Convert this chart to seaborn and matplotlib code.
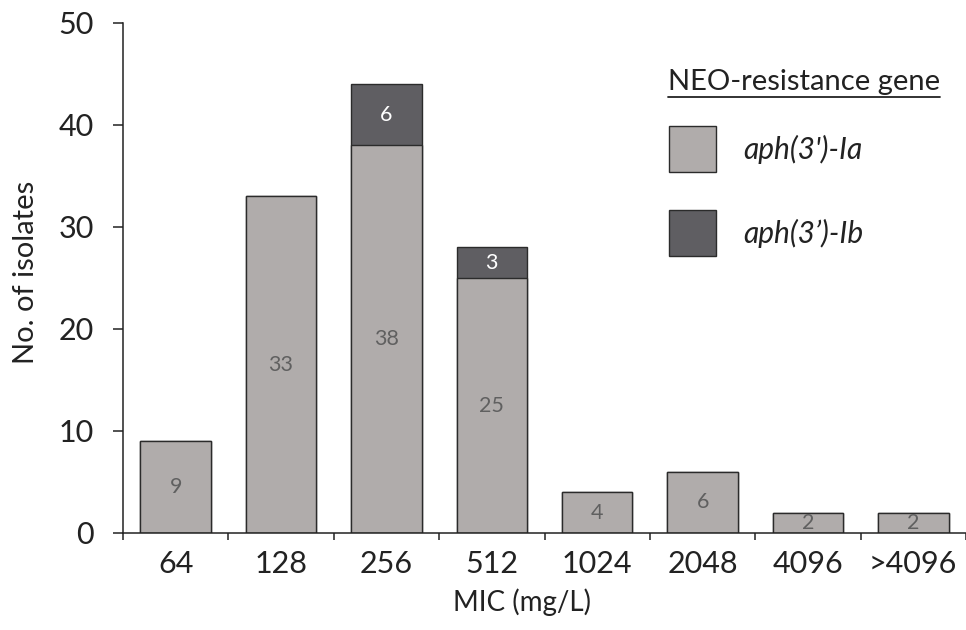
import matplotlib
matplotlib.use("Agg")
import matplotlib.pyplot as plt
import seaborn as sns
import pandas as pd
from matplotlib.patches import Rectangle
from matplotlib.lines import Line2D

categories = ["64", "128", "256", "512", "1024", "2048", "4096", ">4096"]
ia_counts = [9, 33, 38, 25, 4, 6, 2, 2]
ib_counts = [0, 0, 6, 3, 0, 0, 0, 0]
series_names = ["aph(3')-Ia", "aph(3\u2019)-Ib"]
legend_title = "NEO-resistance gene"

LIGHT = "#b0acab"
DARK = "#5f5e62"
EDGE = "#2b2b2b"
TXT = "#222222"

sns.set_theme(style="white")
plt.rcParams["font.family"] = ["Lato", "DejaVu Sans"]

df = pd.DataFrame({"MIC": categories, "Ia": ia_counts, "Ib": ib_counts})
df["Total"] = df["Ia"] + df["Ib"]

W, H = 966, 630
fig = plt.figure(figsize=(W / 100, H / 100), dpi=100)
ax = fig.add_axes([123 / W, 97 / H, 1 - 123 / W, (533 - 23) / H])

sns.barplot(data=df, x="MIC", y="Total", color=DARK, saturation=1, width=0.67,
            edgecolor=EDGE, linewidth=1.0, ax=ax, order=categories)
sns.barplot(data=df, x="MIC", y="Ia", color=LIGHT, saturation=1, width=0.67,
            edgecolor=EDGE, linewidth=1.0, ax=ax, order=categories)

for i, (a, b) in enumerate(zip(ia_counts, ib_counts)):
    ax.text(i, a / 2, str(a), ha="center", va="center", fontsize=15.5, color="#606060")
    if b > 0:
        ax.text(i, a + b / 2, str(b), ha="center", va="center", fontsize=15.5, color="white")

ax.set_xlim(-0.5, 7.41)
ax.set_ylim(0, 50)
ax.set_yticks(range(0, 51, 10))
ax.set_xticks(range(len(categories)))
ax.set_xticklabels(categories)
ax.set_xticks([i - 0.5 for i in range(len(categories) + 1)], minor=True)
ax.tick_params(axis="x", which="major", length=0, pad=12, labelsize=22, colors=TXT)
ax.tick_params(axis="x", which="minor", length=5, width=1.1, direction="out", bottom=True, color=TXT)
ax.tick_params(axis="y", which="major", length=7, width=1.1, direction="out", left=True, pad=14,
               labelsize=22, colors=TXT)

for s in ["top", "right"]:
    ax.spines[s].set_visible(False)
for s in ["left", "bottom"]:
    ax.spines[s].set_color(TXT)
    ax.spines[s].set_linewidth(1.1)

ax.set_xlabel("MIC (mg/L)", fontsize=20, color=TXT)
ax.set_ylabel("No. of isolates", fontsize=21, color=TXT)
ax.xaxis.set_label_coords((522 - 123) / 843, (533 - 588) / 510)
ax.yaxis.set_label_coords((39 - 123) / 843, (533 - 272) / 510)

def fx(px):
    return px / W

def fy(py):
    return 1 - py / H

title = fig.text(fx(668), fy(90), legend_title, ha="left", va="baseline", fontsize=21, color=TXT)
fig.canvas.draw()
bb = title.get_window_extent(fig.canvas.get_renderer())
fig.add_artist(Line2D([bb.x0 / W, bb.x1 / W], [fy(97), fy(97)], transform=fig.transFigure,
                      color=TXT, linewidth=1.3))
for (top, color, name) in [(126, LIGHT, series_names[0]), (210, DARK, series_names[1])]:
    fig.add_artist(Rectangle((fx(669), fy(top + 46)), 47 / W, 46 / H, transform=fig.transFigure,
                             facecolor=color, edgecolor=EDGE, linewidth=1.0))
    fig.text(fx(743), fy(top + 23), name, ha="left", va="center", fontsize=21.5,
             style="italic", color=TXT)

fig.savefig("out.png", dpi=100)
